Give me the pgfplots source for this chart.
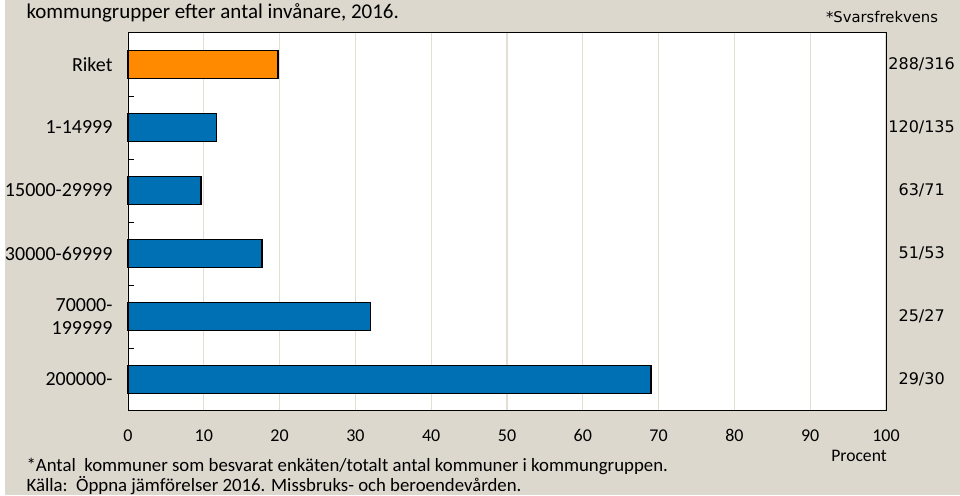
\documentclass[border=0pt]{standalone}
\usepackage{pgfplots}
\pgfplotsset{compat=1.18}
\usepackage{fontspec}
\setmainfont{Carlito}
\newfontfamily\sidefont{DejaVu Sans}
\definecolor{bg}{HTML}{DDD8CE}
\definecolor{barblue}{HTML}{0070B4}
\definecolor{barorange}{HTML}{FF8A00}
\definecolor{gridc}{HTML}{E3DED4}

\begin{document}
\begin{tikzpicture}[x=1pt,y=1pt]
\useasboundingbox (0,0) rectangle (960,495);
\fill[bg] (0,0) rectangle (960,495);
\fill[white] (0,0) rectangle (5,495);
\begin{axis}[
  xbar, bar width=28pt, bar shift=0pt,
  at={(128pt,84pt)}, anchor=south west,
  width=758pt, height=378pt, scale only axis,
  xmin=0, xmax=100, xtick={0,10,...,100},
  ymin=-0.5, ymax=5.5,
  ytick={0.5,1.5,...,4.5}, yticklabels={},
  extra y ticks={0,...,5},
  extra y tick labels={200000-,{70000-\\199999},30000-69999,15000-29999,1-14999,Riket},
  extra y tick style={major tick length=0pt,
    yticklabel style={align=right, font=\fontsize{20}{23}\selectfont, xshift=-12pt}},
  /pgf/number format/assume math mode=true,
  xticklabel style={font=\fontsize{18}{21}\selectfont, yshift=-15pt},
  xtick style={draw=none},
  ytick style={black, line width=0.8pt},
  major tick length=6pt, tick align=inside, ytick pos=left,
  xmajorgrids, grid style={gridc, line width=1.2pt},
  axis background/.style={fill=white},
  axis line style={black, line width=1pt},
  clip=false,
]
\addplot[fill=barorange, draw=black, line width=1.5pt] coordinates {(19.8,5)};
\addplot[fill=barblue, draw=black, line width=1.5pt] coordinates {
  (11.7,4) (9.6,3) (17.7,2) (32.0,1) (69.0,0)};
\begin{scope}[every node/.style={font=\sidefont\fontsize{16}{19}\selectfont}]
\node at (axis cs:104.7,5) {288/316};
\node at (axis cs:104.7,4) {120/135};
\node at (axis cs:104.7,3) {63/71};
\node at (axis cs:104.7,2) {51/53};
\node at (axis cs:104.7,1) {25/27};
\node at (axis cs:104.7,0) {29/30};
\end{scope}
\end{axis}
\node[anchor=west, font=\fontsize{21}{24}\selectfont] at (23,482) {kommungrupper efter antal invånare, 2016.};
\node[font=\sidefont\fontsize{14.8}{17}\selectfont] at (882,478) {*Svarsfrekvens};
\node[font=\fontsize{17.6}{20}\selectfont] at (859,39) {Procent};
\node[anchor=west, font=\fontsize{18.8}{21}\selectfont] at (23,29) {*Antal\ \ kommuner som besvarat enkäten/totalt antal kommuner i kommungruppen.};
\node[anchor=west, font=\fontsize{18.8}{21}\selectfont] at (23,9) {Källa:\ \ Öppna jämförelser 2016. Missbruks- och beroendevården.};
\end{tikzpicture}
\end{document}
